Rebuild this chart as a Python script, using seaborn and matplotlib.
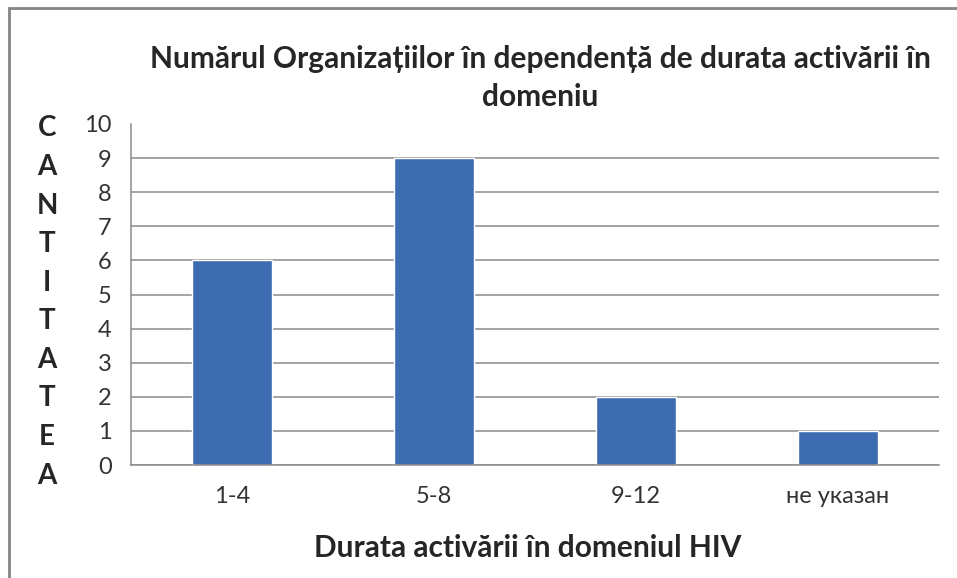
import numpy as np
import pandas as pd
import seaborn as sns
import matplotlib.pyplot as plt
from matplotlib.patches import Rectangle

categories = ["1-4", "5-8", "9-12", "не указан"]
counts = [6, 9, 2, 1]
y_ticks = list(range(0, 11))

df = pd.DataFrame({"durata": categories, "numar": counts})

sns.set_style("white")
plt.rcParams['font.family'] = ['Lato', 'DejaVu Sans']

fig = plt.figure(figsize=(9.57, 5.78), dpi=100)
ax = fig.add_axes([131 / 957, 113 / 578, 808 / 957, 341 / 578])

sns.barplot(data=df, x="durata", y="numar", color="#3d6cb0", saturation=1,
            width=0.4, ax=ax)

ax.set_xlim(-0.5, 3.5)
ax.set_ylim(0, 10)
ax.set_yticks(y_ticks)
ax.set_axisbelow(True)
ax.yaxis.grid(True, color="#8a8a8a", linewidth=1.1)
ax.get_ygridlines()[-1].set_visible(False)

grey = "#8a8a8a"
for s in ["top", "right"]:
    ax.spines[s].set_visible(False)
for s in ["left", "bottom"]:
    ax.spines[s].set_color(grey)
    ax.spines[s].set_linewidth(1.1)

ax.tick_params(axis="y", which="major", length=9, color=grey, width=1.1,
               labelsize=17, pad=5, labelcolor="#333333")
ax.yaxis.get_major_ticks()[-1].tick1line.set_visible(False)
ax.tick_params(axis="x", which="major", length=0, labelsize=17, pad=15,
               labelcolor="#333333")
ax.set_xticks(np.arange(-0.5, 4, 1), minor=True)
ax.tick_params(axis="x", which="minor", length=9, color=grey, width=1.1)

ax.set_xlabel("")
ax.set_ylabel("")

fig.text(540 / 957, 1 - 78 / 578,
         "Numărul Organizațiilor în dependență de durata activării în\ndomeniu",
         ha="center", va="center", fontsize=21.5, fontweight="bold",
         linespacing=1.42)
fig.text(528 / 957, 1 - 548 / 578, "Durata activării în domeniul HIV",
         ha="center", va="center", fontsize=21.5, fontweight="bold")
fig.text(47 / 957, 1 - 302 / 578, "\n".join("CANTITATEA"),
         ha="center", va="center", fontsize=20, fontweight="bold",
         linespacing=1.6)

fig.patches.append(Rectangle((8.5 / 957, -0.1), 1.2, 1 - 8.5 / 578 + 0.1,
                             transform=fig.transFigure, fill=False,
                             edgecolor="#858585", linewidth=2))

fig.savefig("out.png", dpi=100)
